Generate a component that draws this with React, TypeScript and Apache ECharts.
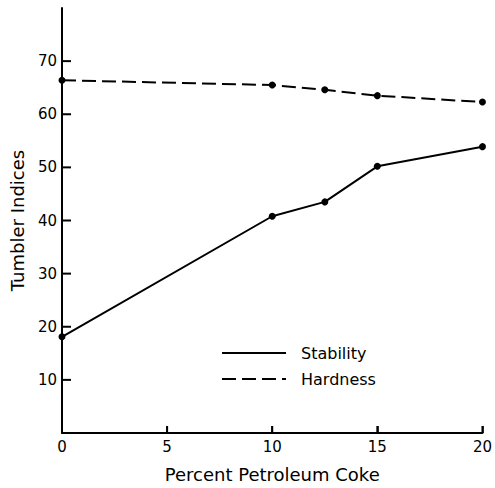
import React, { useEffect, useRef } from "react";
import * as echarts from "echarts";

const xValues = [0, 10, 12.5, 15, 20];
const stability = [18.1, 40.8, 43.5, 50.2, 53.9];
const hardness = [66.4, 65.5, 64.6, 63.5, 62.3];
const yTickValues = [10, 20, 30, 40, 50, 60, 70];
const xTickValues = [5, 10, 15, 20];
const yAxisTitle = "Tumbler Indices";
const xAxisTitle = "Percent Petroleum Coke";

const FONT = "DejaVu Sans";

export default function App() {
  const ref = useRef<HTMLDivElement>(null);
  useEffect(() => {
    if (!ref.current) return;
    const chart = echarts.init(ref.current, null, { renderer: "svg" });
    const pairs = (ys: number[]) => xValues.map((x, i) => [x, ys[i]]);
    chart.setOption({
      animation: false,
      backgroundColor: "#fff",
      textStyle: { fontFamily: FONT, color: "#000" },
      grid: { left: 62, right: 11, top: 8, bottom: 55 },
      legend: {
        orient: "vertical",
        left: 216,
        top: 340,
        itemWidth: 64,
        itemHeight: 14,
        itemGap: 10,
        textStyle: { fontFamily: FONT, fontSize: 16, color: "#000", padding: [0, 0, 0, 10] },
        itemStyle: { opacity: 0 },
        data: ["Stability", "Hardness"],
      },
      xAxis: {
        type: "value",
        min: 0,
        max: 20,
        interval: 5,
        name: xAxisTitle,
        nameLocation: "middle",
        nameGap: 32,
        nameTextStyle: { fontFamily: FONT, fontSize: 18, color: "#000" },
        axisLine: { show: true, lineStyle: { color: "#000", width: 2 } },
        axisTick: { show: true, inside: true, length: 7, lineStyle: { color: "#000", width: 1.5 } },
        axisLabel: { fontFamily: FONT, fontSize: 15, color: "#000", margin: 6 },
        splitLine: { show: false },
      },
      yAxis: {
        type: "value",
        min: 0,
        max: 80,
        interval: 10,
        axisLine: { show: true, lineStyle: { color: "#000", width: 2 } },
        axisTick: { show: false },
        axisLabel: {
          fontFamily: FONT,
          fontSize: 15,
          color: "#000",
          margin: 5,
          formatter: (v: number) => (yTickValues.indexOf(v) >= 0 ? String(v) : ""),
        },
        splitLine: { show: false },
      },
      series: [
        {
          name: "Stability",
          type: "line",
          data: pairs(stability),
          symbol: "circle",
          symbolSize: 7,
          itemStyle: { color: "#000" },
          lineStyle: { color: "#000", width: 2, type: "solid" },
        },
        {
          name: "Hardness",
          type: "line",
          data: pairs(hardness),
          symbol: "circle",
          symbolSize: 7,
          itemStyle: { color: "#000" },
          lineStyle: { color: "#000", width: 2, type: [14, 6] },
        },
      ],
    });

    const tickStyle = { stroke: "#000", lineWidth: 2 };
    const elements: any[] = [];
    yTickValues.forEach((v) => {
      const p = chart.convertToPixel({ gridIndex: 0 }, [0, v]) as number[];
      elements.push({ type: "line", z: 100, shape: { x1: p[0], y1: p[1], x2: p[0] + 9, y2: p[1] }, style: tickStyle });
    });
    xTickValues.forEach((v) => {
      const p = chart.convertToPixel({ gridIndex: 0 }, [v, 0]) as number[];
      elements.push({ type: "line", z: 100, shape: { x1: p[0], y1: p[1], x2: p[0], y2: p[1] - 7 }, style: tickStyle });
    });
    const top = chart.convertToPixel({ gridIndex: 0 }, [0, 80]) as number[];
    const bottom = chart.convertToPixel({ gridIndex: 0 }, [0, 0]) as number[];
    elements.push({
      type: "text",
      x: 17,
      y: (top[1] + bottom[1]) / 2,
      rotation: Math.PI / 2,
      style: {
        text: yAxisTitle,
        font: "18px 'DejaVu Sans'",
        fill: "#000",
        align: "center",
        verticalAlign: "middle",
      },
    });
    chart.setOption({ graphic: { elements } });

    return () => chart.dispose();
  }, []);
  return (
    <div
      ref={ref}
      style={{ position: "fixed", left: 0, top: 0, width: 495, height: 488, background: "#fff" }}
    />
  );
}
